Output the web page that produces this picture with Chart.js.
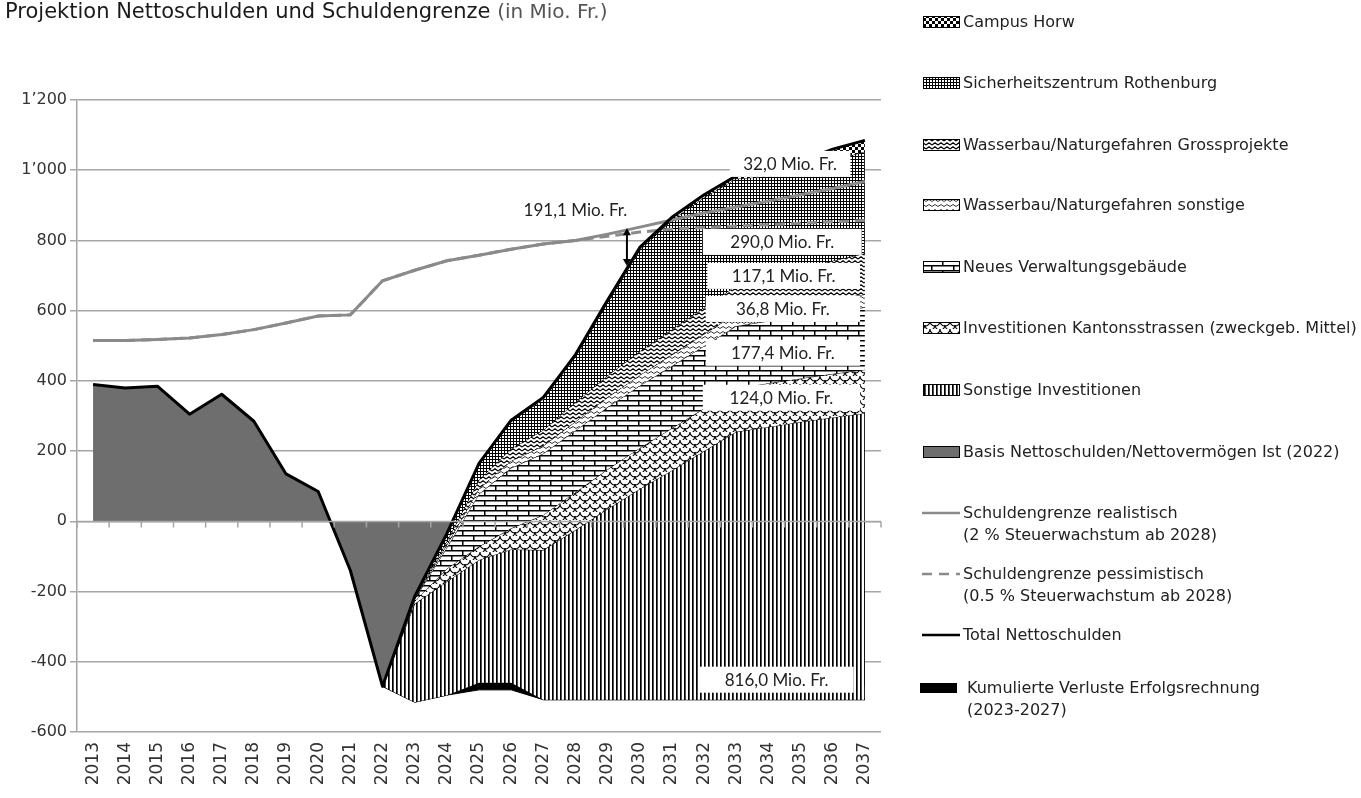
<!DOCTYPE html>
<html><head><meta charset="utf-8">
<script src="https://cdn.jsdelivr.net/npm/chart.js@4.4.1/dist/chart.umd.min.js"></script>
<style>
html,body{margin:0;padding:0;background:#fff;}
#wrap{position:relative;width:1361px;height:798px;overflow:hidden;background:#fff;}
#c{position:absolute;left:0;top:0;}
#title{position:absolute;left:5px;top:-1px;font-family:"DejaVu Sans",sans-serif;font-size:21px;color:#1a1a1a;white-space:nowrap;}
#title span{color:#555;font-size:20px;}
.lg{position:absolute;left:920px;font-family:"DejaVu Sans",sans-serif;font-size:16px;color:#222;white-space:nowrap;line-height:22px;}
.lg canvas{position:absolute;left:0;}
.lg .t{position:absolute;left:43px;top:0;}
</style></head>
<body><div id="wrap"><canvas id="c" width="1361" height="798"></canvas>
<div id="title">Projektion Nettoschulden und Schuldengrenze <span>(in Mio. Fr.)</span></div>
<div id="legend"></div>
</div>
<script>
// ---------- DATA ----------
const years = ['2013','2014','2015','2016','2017','2018','2019','2020','2021','2022','2023','2024','2025','2026','2027','2028','2029','2030','2031','2032','2033','2034','2035','2036','2037'];
// Basis Nettoschulden / Nettovermögen Ist (2022), 2013-2037
const basisIst = [390,380,385,305,362,285,135,85,-140,-470,-470,-470,-470,-470,-470,-470,-470,-470,-470,-470,-470,-470,-470,-470,-470];
// Total Nettoschulden 2013-2037
const totalNetto = [390,380,385,305,362,285,135,85,-140,-470,-214,-35,165,288,353,475,630,780,866,930,984,1000,1025,1060,1085];
const grenzeRealistisch = [515,515,518,522,532,546,565,585,588,685,715,742,758,775,790,800,818,838,858,878,895,912,930,948,968];
const grenzePessimistisch = [515,515,518,522,532,546,565,585,588,685,715,742,758,775,790,800,812,824,832,837,841,845,849,853,857];
// projection layers 2022-2037
const stackBottom   = [-470,-515,-495,-460,-460,-508,-508,-508,-508,-508,-508,-508,-508,-508,-508,-508];
const kumVerluste   = [0,0,0,20,20,0,0,0,0,0,0,0,0,0,0,0];
const sonstigeInv   = [0,280,323,350,380,426,483,543,600,653,708,763,777,791,804,816];
const kantonsstr    = [0,7,37,38,60,100,108,113,117,120,122,124,124,124,124,124];
const verwaltung    = [0,6,60,150,172,175,176,177,177.4,177.4,177.4,177.4,177.4,177.4,177.4,177.4];
const wasserSonst   = [0,2,8,15,20,22,25,28,30,32,34,35,36.8,36.8,36.8,36.8];
const wasserGross   = [0,2,10,25,35,45,55,62,68,72,75,80,88,96,108,117.1];
const sicherheit    = [0,3,20,44,77,88,130,208,287.6,311.6,313.6,304.6,286.8,277.8,285.8,289.7];
const campusHorw    = [0,1,2,3,4,5,6,7,8,8,8,8,18,30,32,32];
const endLabels = ['32,0 Mio. Fr.','290,0 Mio. Fr.','117,1 Mio. Fr.','36,8 Mio. Fr.','177,4 Mio. Fr.','124,0 Mio. Fr.','816,0 Mio. Fr.'];
const gapLabel = '191,1 Mio. Fr.';

// ---------- helpers ----------
const N = years.length;
const pad = a => Array(N - a.length).fill(null).concat(a);
const cv = document.getElementById('c');
const ctx = cv.getContext('2d');
function tile(w,h,draw){const c=document.createElement('canvas');c.width=w;c.height=h;const g=c.getContext('2d');g.fillStyle='#fff';g.fillRect(0,0,w,h);g.strokeStyle='#000';g.fillStyle='#000';draw(g,w,h);return c;}
const tiles = {
  stripes: tile(4,4,(g)=>{g.fillRect(0,0,1.7,4);}),
  scales: tile(10,8,(g)=>{g.lineWidth=1.1;g.beginPath();g.arc(5,0,5,0,Math.PI);g.stroke();g.beginPath();g.arc(0,4,5,0,Math.PI/2);g.stroke();g.beginPath();g.arc(10,4,5,Math.PI/2,Math.PI);g.stroke();}),
  bricks: tile(22,10,(g)=>{g.fillRect(0,0,22,1.5);g.fillRect(0,5,22,1.5);g.fillRect(0,0,1.5,5);g.fillRect(11,5,1.5,5);}),
  zigSmall: tile(6,5,(g)=>{g.lineWidth=0.9;g.strokeStyle='#222';g.beginPath();g.moveTo(0,3.5);g.lineTo(3,1.5);g.lineTo(6,3.5);g.stroke();}),
  zig: tile(6,4,(g)=>{g.lineWidth=1.2;g.beginPath();g.moveTo(0,3);g.lineTo(3,0.8);g.lineTo(6,3);g.stroke();}),
  grid: tile(3,3,(g)=>{g.fillRect(0,0,3,1);g.fillRect(0,0,1,3);}),
  checker: tile(6,6,(g)=>{g.fillRect(0,0,3,3);g.fillRect(3,3,3,3);})
};
const P = {}; for (const k in tiles) P[k] = ctx.createPattern(tiles[k],'repeat');

// cumulative tops of the projection layers
const layers = [
  {label:'Sonstige Investitionen', v:sonstigeInv, bg:P.stripes},
  {label:'Investitionen Kantonsstrassen (zweckgeb. Mittel)', v:kantonsstr, bg:P.scales},
  {label:'Neues Verwaltungsgebäude', v:verwaltung, bg:P.bricks},
  {label:'Wasserbau/Naturgefahren sonstige', v:wasserSonst, bg:P.zigSmall},
  {label:'Wasserbau/Naturgefahren Grossprojekte', v:wasserGross, bg:P.zig},
  {label:'Sicherheitszentrum Rothenburg', v:sicherheit, bg:P.grid},
  {label:'Campus Horw', v:campusHorw, bg:P.checker}
];
let acc = stackBottom.slice();
const layerSets = layers.map((l,i)=>{acc = acc.map((s,j)=>s + l.v[j]);
  return {label:l.label, data:pad(acc), fill:'-1', backgroundColor:l.bg, borderColor:'#000', borderWidth: i===6?0:1, pointRadius:0, tension:0, order:10-i};});
const lossLower = stackBottom.map((b,i)=>b - kumVerluste[i]);

const datasets = [
  {label:'Total Nettoschulden', data:totalNetto, borderColor:'#000', borderWidth:3, fill:false, pointRadius:0, tension:0, order:0, borderJoinStyle:'round'},
  {label:'Schuldengrenze realistisch', data:grenzeRealistisch, borderColor:'#8a8a8a', borderWidth:3, fill:false, pointRadius:0, tension:0, order:1},
  {label:'Schuldengrenze pessimistisch', data:grenzePessimistisch, borderColor:'#8a8a8a', borderWidth:3, borderDash:[10,6], fill:false, pointRadius:0, tension:0, order:2},
  {label:'lossLower', data:pad(lossLower), borderColor:'#000', borderWidth:1, fill:false, pointRadius:0, tension:0, order:12},
  {label:'Kumulierte Verluste Erfolgsrechnung', data:pad(stackBottom), borderColor:'#000', borderWidth:1, fill:'-1', backgroundColor:'#000', pointRadius:0, tension:0, order:11},
  ...layerSets,
  {label:'Basis Nettoschulden/Nettovermögen Ist (2022)', data:basisIst, borderWidth:0, borderColor:'rgba(0,0,0,0)', fill:'origin', backgroundColor:'#6e6e6e', pointRadius:0, tension:0, order:20}
];

const fmt = v => String(v).replace(/\B(?=(\d{3})+(?!\d))/g, '\u2019');
const FONT = '"DejaVu Sans", sans-serif';

const overlay = {
  id:'overlay',
  afterDatasetsDraw(chart){
    const c = chart.ctx, xs = chart.scales.x, ys = chart.scales.y;
    const step = xs.getPixelForValue(1) - xs.getPixelForValue(0);
    const px = idx => xs.getPixelForValue(0) + idx*step;
    c.save();
    // category axis at 0 with boundary ticks
    const y0 = Math.round(ys.getPixelForValue(0))+0.5;
    c.strokeStyle = '#a6a6a6'; c.lineWidth = 1.5;
    c.beginPath(); c.moveTo(chart.chartArea.left, y0); c.lineTo(chart.chartArea.right, y0);
    for (let i=0;i<=N;i++){ const x = px(i-0.5); c.moveTo(x,y0); c.lineTo(x,y0+6); }
    c.stroke();
    // end value boxes
    const boxes = [[19.8,23.55,1018],[18.96,23.9,796],[19.1,23.85,699],[19.05,23.85,605],[19.05,23.85,480],[18.96,23.85,352],[18.86,23.65,-451]];
    c.font = '17px Lato, "Open Sans", sans-serif'; c.textAlign='center'; c.textBaseline='middle';
    boxes.forEach((b,i)=>{ const x0=px(b[0]), x1=px(b[1]), yc=ys.getPixelForValue(b[2]);
      c.fillStyle='#fff'; c.fillRect(x0, yc-13, x1-x0, 26);
      c.fillStyle='#222'; c.fillText(endLabels[i], (x0+x1)/2, yc+1); });
    // gap arrow
    const ax = px(16.6), ya = ys.getPixelForValue(835), yb = ys.getPixelForValue(727);
    c.strokeStyle='#000'; c.fillStyle='#000'; c.lineWidth=2;
    c.beginPath(); c.moveTo(ax, ya+5); c.lineTo(ax, yb-5); c.stroke();
    c.beginPath(); c.moveTo(ax, ya); c.lineTo(ax-4, ya+7); c.lineTo(ax+4, ya+7); c.closePath(); c.fill();
    c.beginPath(); c.moveTo(ax, yb); c.lineTo(ax-4, yb-7); c.lineTo(ax+4, yb-7); c.closePath(); c.fill();
    c.fillStyle='#222'; c.fillText(gapLabel, px(15.0), ys.getPixelForValue(885));
    c.restore();
  }
};

new Chart(ctx, {
  type:'line',
  data:{labels:years, datasets},
  options:{
    responsive:false, animation:false, devicePixelRatio:1,
    layout:{padding:{left:0, right:480, top:100, bottom:0}},
    plugins:{legend:{display:false}, tooltip:{enabled:false}, title:{display:false}},
    elements:{line:{borderCapStyle:'butt'}},
    scales:{
      x:{type:'category', offset:true, grid:{display:false, drawTicks:false}, border:{display:false},
         ticks:{autoSkip:false, minRotation:90, maxRotation:90, padding:10, color:'#333', font:{family:FONT, size:17}},
         afterFit(s){ s.height = 66; }},
      y:{min:-600, max:1200, grid:{color:'#a6a6a6', lineWidth:1.5, tickLength:7}, border:{display:true, color:'#a6a6a6', width:1.5},
         ticks:{stepSize:200, padding:3, color:'#333', font:{family:FONT, size:16}, callback:v=>fmt(v)},
         afterFit(s){ s.width = 77; }}
    }
  },
  plugins:[overlay]
});

// ---------- HTML legend ----------
const legendItems = [
  {t:['Campus Horw'], y:22, kind:'pat', p:'checker'},
  {t:['Sicherheitszentrum Rothenburg'], y:83, kind:'pat', p:'grid'},
  {t:['Wasserbau/Naturgefahren Grossprojekte'], y:145, kind:'pat', p:'zig'},
  {t:['Wasserbau/Naturgefahren sonstige'], y:205, kind:'pat', p:'zigSmall'},
  {t:['Neues Verwaltungsgebäude'], y:267, kind:'pat', p:'bricks'},
  {t:['Investitionen Kantonsstrassen (zweckgeb. Mittel)'], y:328, kind:'pat', p:'scales'},
  {t:['Sonstige Investitionen'], y:390, kind:'pat', p:'stripes'},
  {t:['Basis Nettoschulden/Nettovermögen Ist (2022)'], y:452, kind:'fill', c:'#6e6e6e'},
  {t:['Schuldengrenze realistisch','(2 % Steuerwachstum ab 2028)'], y:513, kind:'line', c:'#8a8a8a'},
  {t:['Schuldengrenze pessimistisch','(0.5 % Steuerwachstum ab 2028)'], y:574, kind:'dash', c:'#8a8a8a'},
  {t:['Total Nettoschulden'], y:635, kind:'line', c:'#000'},
  {t:['Kumulierte Verluste Erfolgsrechnung','(2023-2027)'], y:688, kind:'block', c:'#000'}
];
const lg = document.getElementById('legend');
legendItems.forEach(it=>{
  const d = document.createElement('div'); d.className='lg'; d.style.top=(it.y-11)+'px';
  const sw = document.createElement('canvas'); sw.width=40; sw.height=14; sw.style.top='4px';
  const g = sw.getContext('2d');
  if (it.kind==='pat'){ g.fillStyle=g.createPattern(tiles[it.p],'repeat'); g.fillRect(3,1,37,12); g.strokeStyle='#000'; g.lineWidth=1; g.strokeRect(3.5,1.5,36,11); }
  else if (it.kind==='fill'){ g.fillStyle=it.c; g.fillRect(3,1,37,12); g.strokeStyle='#000'; g.strokeRect(3.5,1.5,36,11); }
  else if (it.kind==='block'){ g.fillStyle=it.c; g.fillRect(0,2,37,10); }
  else { g.strokeStyle=it.c; g.lineWidth=2.5; if(it.kind==='dash') g.setLineDash([10,7]); g.beginPath(); g.moveTo(2,7); g.lineTo(40,7); g.stroke(); }
  d.appendChild(sw);
  const t = document.createElement('div'); t.className='t'; t.innerHTML = it.t.join('<br>');
  if (it.kind==='block') t.style.left='47px';
  d.appendChild(t); lg.appendChild(d);
});
</script>
</body></html>
